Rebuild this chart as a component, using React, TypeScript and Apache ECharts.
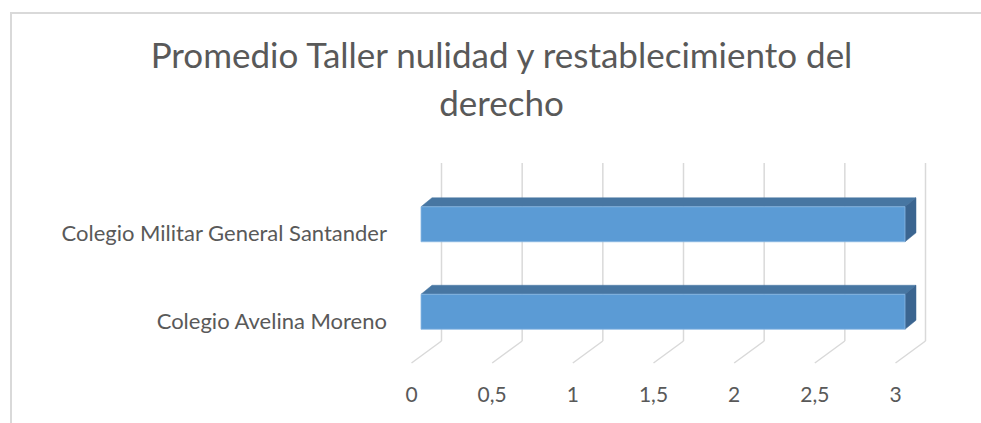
import React, { useEffect, useRef } from "react";
import * as echarts from "echarts";

const categories = ["Colegio Avelina Moreno", "Colegio Militar General Santander"];
const values = [3, 3];
const ticks = [0, 0.5, 1, 1.5, 2, 2.5, 3];
const titleLines = ["Promedio Taller nulidad y restablecimiento del", "derecho"];

const FONT = "Lato, 'Open Sans', sans-serif";
const TEXT = "#595959";

export default function App() {
  const ref = useRef<HTMLDivElement>(null);
  useEffect(() => {
    const chart = echarts.init(ref.current!, null, { renderer: "svg" });
    const BACK_DX = 30, BACK_DY = -22;
    const BAR_DX = 9.5, BAR_DY = -8.5;
    const DEPTH_DX = 11, DEPTH_DY = -9;
    const GRID_COLOR = "#D9D9D9";

    chart.setOption({
      animation: false,
      backgroundColor: "#ffffff",
      graphic: [
        {
          type: "rect",
          shape: { x: 11, y: 13, width: 1100, height: 600 },
          style: { fill: "none", stroke: "#D9D9D9", lineWidth: 2 },
          silent: true,
          z: 0,
        },
        {
          type: "text",
          x: 501.5,
          y: 30,
          style: {
            text: titleLines.join("\n"),
            align: "center",
            verticalAlign: "top",
            fontSize: 35,
            lineHeight: 48,
            fontFamily: FONT,
            fill: TEXT,
          },
        },
      ],
      grid: { left: 411.5, right: 981 - 895.5, top: 189, height: 175 },
      xAxis: {
        type: "value",
        min: 0,
        max: 3,
        interval: 0.5,
        axisLine: { show: false },
        axisTick: { show: false },
        splitLine: { show: false },
        axisLabel: {
          formatter: (v: number) => String(v).replace(".", ","),
          color: TEXT,
          fontSize: 21,
          fontFamily: FONT,
          margin: 19,
        },
      },
      yAxis: {
        type: "category",
        data: categories,
        axisLine: { show: false },
        axisTick: { show: false },
        splitLine: { show: false },
        axisLabel: {
          color: TEXT,
          fontSize: 22,
          fontFamily: FONT,
          margin: 24.5,
        },
      },
      series: [
        {
          type: "custom",
          name: "walls",
          silent: true,
          z: 1,
          data: ticks.map((t) => [t, 0]),
          renderItem: (params: any, api: any) => {
            const x = api.coord([api.value(0), 0])[0];
            const cs = params.coordSys;
            const floorY = cs.y + cs.height - 1;
            const wallTop = cs.y - 26;
            const style = { stroke: GRID_COLOR, lineWidth: 1.5 };
            return {
              type: "group",
              children: [
                { type: "line", shape: { x1: x + BACK_DX, y1: wallTop, x2: x + BACK_DX, y2: floorY + BACK_DY }, style },
                { type: "line", shape: { x1: x + BACK_DX, y1: floorY + BACK_DY, x2: x, y2: floorY }, style },
              ],
            };
          },
        },
        {
          type: "custom",
          name: "Promedio",
          z: 2,
          data: values.map((v, i) => [v, i]),
          renderItem: (params: any, api: any) => {
            const cat = api.value(1);
            const p0 = api.coord([0, cat]);
            const p1 = api.coord([api.value(0), cat]);
            const band = api.size([0, 1])[1];
            const h = band * 0.4;
            const x0 = p0[0] + BAR_DX;
            const x1 = p1[0] + BAR_DX;
            const yc = p0[1] + BAR_DY;
            const yt = yc - h / 2;
            const yb = yc + h / 2;
            return {
              type: "group",
              children: [
                {
                  type: "polygon",
                  shape: { points: [[x0, yt], [x0 + DEPTH_DX, yt + DEPTH_DY], [x1 + DEPTH_DX, yt + DEPTH_DY], [x1, yt]] },
                  style: { fill: "#4776A2", stroke: "#4776A2", lineWidth: 0.5 },
                },
                {
                  type: "polygon",
                  shape: { points: [[x1, yt], [x1 + DEPTH_DX, yt + DEPTH_DY], [x1 + DEPTH_DX, yb + DEPTH_DY], [x1, yb]] },
                  style: { fill: "#3B6590", stroke: "#3B6590", lineWidth: 0.5 },
                },
                {
                  type: "rect",
                  shape: { x: x0, y: yt, width: x1 - x0, height: h },
                  style: { fill: "#5B9BD5", stroke: "#8AB7E3", lineWidth: 0.8 },
                },
              ],
            };
          },
        },
      ],
    });
    return () => chart.dispose();
  }, []);
  return (
    <div
      ref={ref}
      style={{ position: "fixed", left: 0, top: 0, width: 981, height: 423, background: "#fff" }}
    />
  );
}
